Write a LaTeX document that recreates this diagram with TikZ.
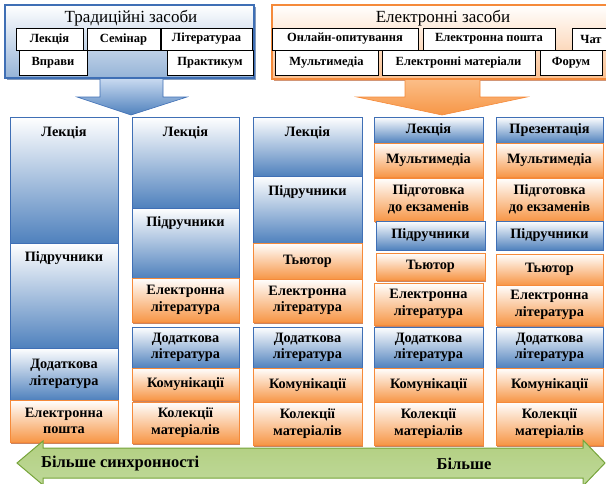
\documentclass[tikz,border=0pt]{standalone}
\usepackage{fontspec}
\setmainfont{Liberation Serif}
\usetikzlibrary{shadows}

\definecolor{bline}{HTML}{3F6FB5}
\definecolor{bfill}{HTML}{4F81BD}
\definecolor{bsoft}{HTML}{C9DAF0}
\definecolor{oline}{HTML}{F58A3A}
\definecolor{ofill}{HTML}{F79646}
\definecolor{osoft}{HTML}{FBBE88}
\definecolor{oshadow}{HTML}{B4501C}
\definecolor{gline}{HTML}{76A43A}
\definecolor{gtop}{HTML}{B2CF80}
\definecolor{gmid}{HTML}{E0EDCB}
\definecolor{gbot}{HTML}{BFD99A}

\tikzset{
  seg/.style={inner sep=0pt, outer sep=0pt, line width=0.9pt, align=center,
    font=\fontsize{14.3}{16.5}\selectfont\bfseries},
  bseg/.style={seg, draw=bline, top color=white, bottom color=bfill,
    drop shadow={shadow xshift=0.7pt, shadow yshift=-1.2pt, fill=black, opacity=0.35}},
  oseg/.style={seg, draw=oline, top color=white, bottom color=ofill,
    drop shadow={shadow xshift=0.7pt, shadow yshift=-1.6pt, fill=oshadow, opacity=0.7}},
  seglabel/.style={inner sep=0pt, align=center, font=\fontsize{14.3}{16.5}\selectfont\bfseries},
  tool/.style={draw=black, line width=0.8pt, fill=white, inner sep=0pt, outer sep=0pt,
    font=\fontsize{12.5}{14}\selectfont\bfseries,
    drop shadow={shadow xshift=1pt, shadow yshift=-1pt, fill=black, opacity=0.6}},
  title/.style={inner sep=0pt, font=\fontsize{17}{19}\selectfont},
  bigtext/.style={inner sep=0pt, font=\fontsize{16.5}{18}\selectfont\bfseries},
}

% box from (x1,y1) to (x2,y2) with centred text
\newcommand\segc[7]{%
  \node[#2, minimum width={(#5-#3)*1pt}, minimum height={(#6-#4)*1pt}]
    (#1) at ({(#3+#5)/2},{(#4+#6)/2}) {#7};}
% tall box with its text near the top, at height #8
\newcommand\segt[8]{%
  \node[#2, minimum width={(#5-#3)*1pt}, minimum height={(#6-#4)*1pt}]
    (#1) at ({(#3+#5)/2},{(#4+#6)/2}) {};
  \node[seglabel] (#1-t) at ({(#3+#5)/2},#8) {#7};}

\begin{document}
\begin{tikzpicture}[x=1pt, y=-1pt]
\useasboundingbox (0,0) rectangle (606,483);
\clip (0,0) rectangle (606,483);

% ---- header: traditional means ----
\node[draw=bline, line width=1.2pt, top color=white, middle color=white, bottom color=bfill!60,
      minimum width=249pt, minimum height=73pt, inner sep=0pt, outer sep=0pt,
      drop shadow={shadow xshift=1.5pt, shadow yshift=-1.5pt, fill=bline!80!black, opacity=0.6}]
  (trad) at (129.5,41.5) {};
\node[title] (tradT) at (131,18.5) {Традиційні засоби};
\segc{tLek}{tool}{16}{28}{83}{50}{Лекція}
\segc{tSem}{tool}{87}{28}{160}{50}{Семінар}
\segc{tLit}{tool}{161}{28}{252}{50}{Літератураа}
\segc{tVpr}{tool}{19}{50}{87}{75}{Вправи}
\segc{tPra}{tool}{167}{50}{253}{75}{Практикум}

% ---- header: electronic means ----
\node[draw=oline, line width=1.2pt, top color=white, middle color=white, bottom color=ofill!60,
      minimum width=340pt, minimum height=74pt, inner sep=0pt, outer sep=0pt,
      drop shadow={shadow xshift=1.5pt, shadow yshift=-2pt, fill=oshadow, opacity=0.6}]
  (elec) at (442,42) {};
\node[title] (elecT) at (443,18.5) {Електронні засоби};
\segc{eOnl}{tool}{272}{28}{418}{50}{Онлайн-опитування}
\segc{eMail}{tool}{423}{28}{555}{50}{Електронна пошта}
\segc{eChat}{tool}{572}{28}{625}{50}{\hspace*{-15pt}Чат}
\segc{eMul}{tool}{275}{50}{378}{75}{Мультимедіа}
\segc{eMat}{tool}{382}{50}{535}{75}{Електронні матеріали}
\segc{eFor}{tool}{540}{50}{602}{75}{Форум}

% ---- block arrows under the headers ----
\draw[bline, line width=0.6pt, top color=bsoft, bottom color=bfill]
  (100,78.5) -- (163,78.5) -- (163,97) -- (187,97) -- (131,115) -- (77,97) -- (100,97) -- cycle;
\draw[oline, line width=0.6pt, top color=osoft, bottom color=ofill]
  (405,79.5) -- (480,79.5) -- (480,97) -- (527,97) -- (442,115) -- (357,97) -- (405,97) -- cycle;

% ---- column 1 ----
\segt{a1}{bseg}{10}{117}{118}{243}{Лекція}{133}
\segt{a2}{bseg}{10}{243}{118}{348}{Підручники}{258}
\segc{a3}{bseg}{10}{348}{118}{400}{Додаткова\\література}
\segc{a4}{oseg}{10}{400}{118}{442}{Електронна\\пошта}

% ---- column 2 ----
\segt{b1}{bseg}{132}{117}{239}{208}{Лекція}{133}
\segt{b2}{bseg}{132}{208}{239}{278}{Підручники}{223}
\segc{b3}{oseg}{132}{278}{239}{322}{Електронна\\література}
\segc{b4}{bseg}{132}{327}{239}{368}{Додаткова\\література}
\segc{b5}{oseg}{132}{368}{239}{400}{Комунікації}
\segc{b6}{oseg}{132}{402}{239}{443}{Колекції\\матеріалів}

% ---- column 3 ----
\segt{c1}{bseg}{253}{117}{362}{176}{Лекція}{133}
\segt{c2}{bseg}{253}{176}{362}{243}{Підручники}{192}
\segc{c3}{oseg}{253}{243}{362}{279}{Тьютор}
\segc{c4}{oseg}{253}{279}{362}{322}{Електронна\\література}
\segc{c5}{bseg}{253}{327}{362}{368}{Додаткова\\література}
\segc{c6}{oseg}{253}{368}{362}{402}{Комунікації}
\segc{c7}{oseg}{253}{402}{362}{445}{Колекції\\матеріалів}

% ---- column 4 ----
\segc{d1}{bseg}{374}{117}{483}{143}{Лекція}
\segc{d2}{oseg}{374}{143}{483}{177}{Мультимедіа}
\segc{d3}{oseg}{374}{178}{483}{221}{Підготовка\\до екзаменів}
\segc{d4}{bseg}{376}{221}{485}{250}{Підручники}
\segc{d5}{oseg}{376}{253}{485}{280}{Тьютор}
\segc{d6}{oseg}{374}{283}{483}{325}{Електронна\\література}
\segc{d7}{bseg}{374}{327}{483}{368}{Додаткова\\література}
\segc{d8}{oseg}{374}{368}{483}{402}{Комунікації}
\segc{d9}{oseg}{374}{402}{483}{445}{Колекції\\матеріалів}

% ---- column 5 ----
\segc{e1}{bseg}{496}{117}{603}{143}{Презентація}
\segc{e2}{oseg}{496}{143}{603}{177}{Мультимедіа}
\segc{e3}{oseg}{496}{178}{603}{221}{Підготовка\\до екзаменів}
\segc{e4}{bseg}{496}{221}{603}{250}{Підручники}
\segc{e5}{oseg}{496}{254}{603}{285}{Тьютор}
\segc{e6}{oseg}{496}{285}{603}{325}{Електронна\\література}
\segc{e7}{bseg}{496}{327}{603}{368}{Додаткова\\література}
\segc{e8}{oseg}{496}{368}{603}{402}{Комунікації}
\segc{e9}{oseg}{496}{402}{603}{445}{Колекції\\матеріалів}

% ---- two-way scale arrow ----
\draw[gline, line width=1pt, top color=gtop, middle color=gmid, bottom color=gbot]
  (17,463) -- (43,441) -- (43,448) -- (583,448) -- (583,440) -- (605,463)
  -- (583,486) -- (583,478) -- (43,478) -- (43,485) -- cycle;
\node[bigtext, anchor=west] (sync) at (41,464) {Більше синхронності};
\node[bigtext] (more) at (464,464) {Більше};
\end{tikzpicture}
\end{document}
